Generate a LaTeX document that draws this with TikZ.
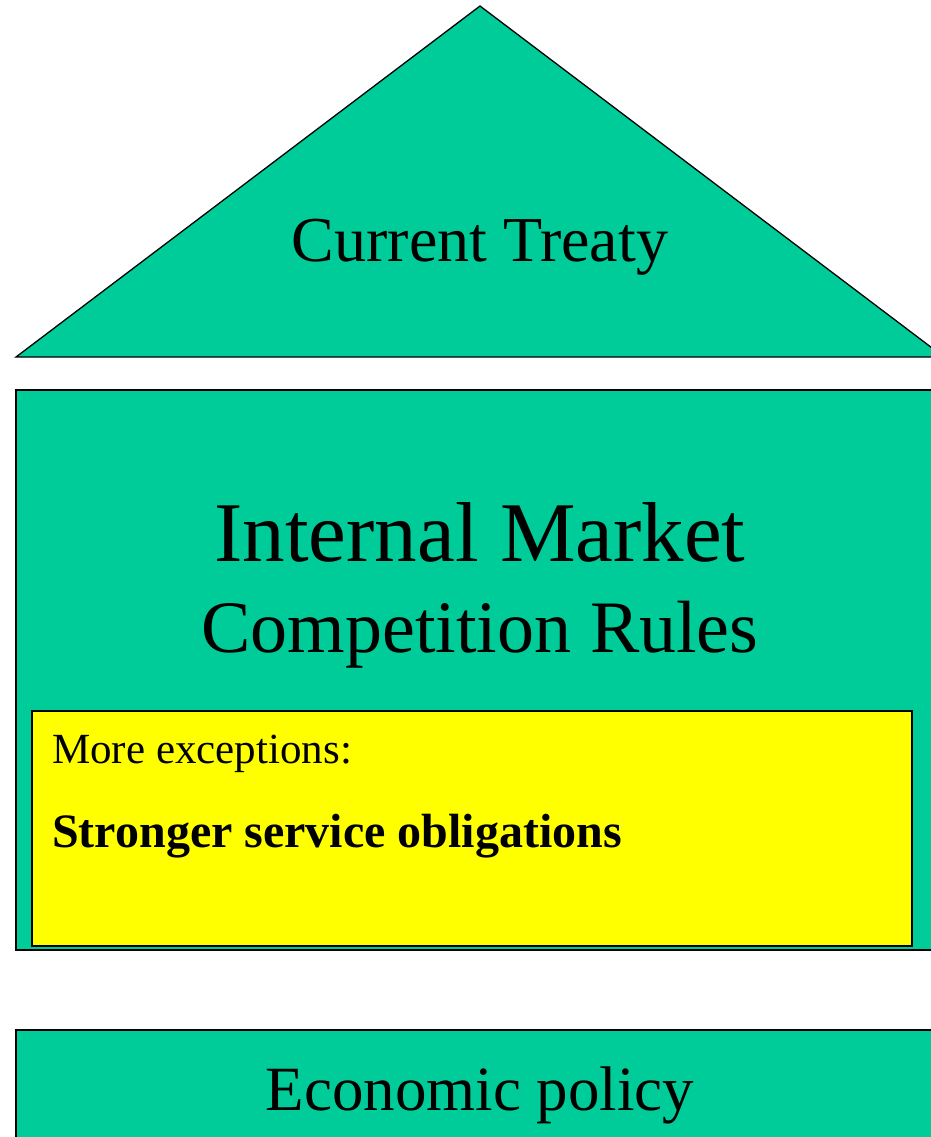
\documentclass[tikz,border=0pt]{standalone}
\usepackage{fontspec}
\setmainfont{Liberation Serif}
\definecolor{housegreen}{HTML}{00CC99}
\definecolor{boxyellow}{HTML}{FFFF00}
\tikzset{
  part/.style={draw=black, line width=1.3pt, fill=housegreen},
  label/.style={inner sep=0pt, anchor=base},
}

\begin{document}
\begin{tikzpicture}[x=1pt, y=-1pt]
  \useasboundingbox (0,0) rectangle (930,1137);

  % roof
  \coordinate (A) at (480,6);
  \coordinate (L) at (16,357);
  \coordinate (R) at (944,357);
  \draw[part, line join=miter] (L) -- (A) -- (R) -- cycle;
  \node[label, font=\fontsize{64}{77}\selectfont] (treaty) at (480,261) {Current Treaty};

  % walls
  \draw[part] (16,390) rectangle (960,950);
  \node[label, font=\fontsize{85}{100}\selectfont] (market) at (480,561) {Internal Market};
  \node[label, font=\fontsize{74}{88}\selectfont] (rules) at (480,652) {Competition Rules};

  \draw[line width=1.3pt, fill=boxyellow] (32,711) rectangle (912,946);
  \node[label, anchor=base west, font=\fontsize{43}{52}\selectfont] (exc) at (52,763) {More exceptions:};
  \node[label, anchor=base west, font=\fontsize{48}{56}\selectfont\bfseries] (obl) at (52,847) {Stronger service obligations};

  % foundation
  \draw[part] (16,1030) rectangle (960,1160);
  \node[label, font=\fontsize{63}{76}\selectfont] (econ) at (480,1110) {Economic policy};
\end{tikzpicture}
\end{document}
